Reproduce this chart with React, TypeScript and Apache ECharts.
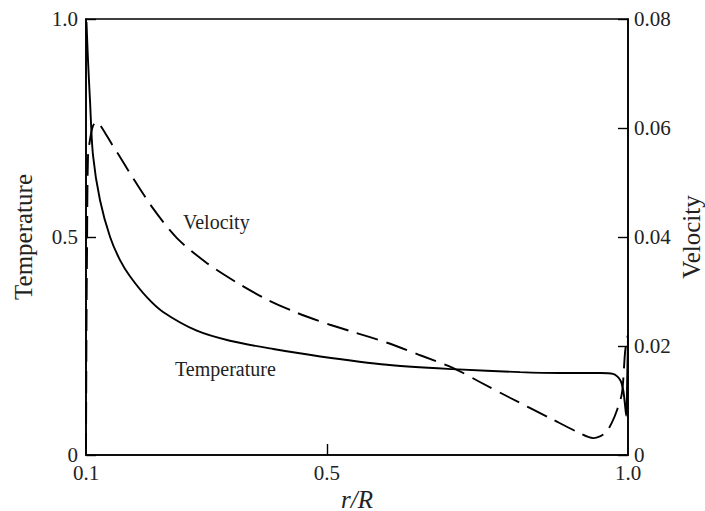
import React, { useEffect, useRef } from "react";
import * as echarts from "echarts";

// r/R values and temperature (left axis)
const tempR = [0.1008, 0.1033, 0.1066, 0.1116, 0.1232, 0.14, 0.1565, 0.173, 0.201, 0.228, 0.284, 0.339, 0.411, 0.489, 0.6, 0.709, 0.821, 0.887, 0.954, 0.975, 0.987, 0.992, 0.995, 0.997, 0.999, 1.0];
const tempV = [0.993, 0.906, 0.814, 0.688, 0.585, 0.5, 0.447, 0.41, 0.362, 0.328, 0.285, 0.262, 0.243, 0.226, 0.207, 0.197, 0.19, 0.188, 0.188, 0.186, 0.172, 0.149, 0.115, 0.09, 0.2, 0.27];

// r/R values and velocity (right axis)
const velR = [0.1, 0.1008, 0.1017, 0.1033, 0.1066, 0.1116, 0.1183, 0.1232, 0.1448, 0.1565, 0.173, 0.211, 0.251, 0.301, 0.351, 0.401, 0.45, 0.505, 0.543, 0.6, 0.655, 0.709, 0.754, 0.804, 0.87, 0.92, 0.942, 0.962, 0.973, 0.982, 0.99, 0.995, 0.998, 1.0];
const velV = [0, 0.0229, 0.0376, 0.0547, 0.0578, 0.0604, 0.0611, 0.0606, 0.0567, 0.0547, 0.0517, 0.0453, 0.0398, 0.0352, 0.0316, 0.0285, 0.0261, 0.0239, 0.0226, 0.0206, 0.0183, 0.016, 0.0134, 0.0105, 0.0068, 0.004, 0.0031, 0.004, 0.0059, 0.0083, 0.0114, 0.0187, 0.0211, 0.022];

const xTicks = [0.1, 0.5, 1.0];
const seriesLabels = ["Velocity", "Temperature"];

const FONT = "Liberation Serif";

export default function App() {
  const ref = useRef<HTMLDivElement>(null);
  useEffect(() => {
    if (!ref.current) return;
    const chart = echarts.init(ref.current, null, { renderer: "svg" });
    const axisLine = { show: true, lineStyle: { color: "#000", width: 1.6 } };
    chart.setOption({
      animation: false,
      backgroundColor: "#fff",
      textStyle: { fontFamily: FONT },
      grid: {
        left: 86,
        right: 77,
        top: 19,
        bottom: 56,
        show: true,
        borderColor: "#000",
        borderWidth: 1.6,
        outerBoundsMode: "none",
        containLabel: false,
      },
      xAxis: {
        type: "value",
        min: 0.1,
        max: 1.0,
        name: "r/R",
        nameLocation: "middle",
        nameGap: 32,
        nameMoveOverlap: false,
        nameTextStyle: { fontFamily: FONT, fontSize: 25, fontStyle: "italic", color: "#222" },
        axisLine,
        splitLine: { show: false },
        axisTick: { show: true, inside: true, length: 11, customValues: [0.5], lineStyle: { color: "#000", width: 1.4 } },
        axisLabel: {
          customValues: xTicks,
          margin: 7,
          fontFamily: FONT,
          fontSize: 21,
          color: "#222",
          formatter: (v: number) => v.toFixed(1),
        },
      },
      yAxis: [
        {
          type: "value",
          position: "left",
          min: 0,
          max: 1,
          interval: 0.5,
          name: "Temperature",
          nameLocation: "middle",
          nameGap: 50,
          nameMoveOverlap: false,
          nameRotate: 90,
          nameTextStyle: { fontFamily: FONT, fontSize: 25, color: "#222" },
          axisLine,
          splitLine: { show: false },
          axisTick: { show: true, inside: true, length: 10, lineStyle: { color: "#000", width: 1.4 } },
          axisLabel: {
            margin: 8,
            fontFamily: FONT,
            fontSize: 21,
            color: "#222",
            formatter: (v: number) => (v === 0 ? "0" : v.toFixed(1)),
          },
        },
        {
          type: "value",
          position: "right",
          min: 0,
          max: 0.08,
          interval: 0.02,
          name: "Velocity",
          nameLocation: "middle",
          nameGap: 51,
          nameMoveOverlap: false,
          nameRotate: 90,
          nameTextStyle: { fontFamily: FONT, fontSize: 25, color: "#222" },
          axisLine,
          splitLine: { show: false },
          axisTick: { show: true, inside: true, length: 10, lineStyle: { color: "#000", width: 1.4 } },
          axisLabel: {
            margin: 6,
            fontFamily: FONT,
            fontSize: 21,
            color: "#222",
            formatter: (v: number) => (v === 0 ? "0" : v.toFixed(2)),
          },
        },
      ],
      series: [
        {
          type: "line",
          name: "Temperature",
          yAxisIndex: 0,
          data: tempR.map((r, i) => [r, tempV[i]]),
          showSymbol: false,
          smooth: 0.3,
          lineStyle: { color: "#000", width: 1.9 },
        },
        {
          type: "line",
          name: "Velocity",
          yAxisIndex: 1,
          data: velR.map((r, i) => [r, velV[i]]),
          showSymbol: false,
          smooth: 0.3,
          lineStyle: { color: "#000", width: 1.9, type: [22, 9] },
        },
      ],
      graphic: [
        {
          type: "text",
          x: 183,
          y: 222,
          style: { text: seriesLabels[0], font: `20px ${FONT}`, fill: "#222", textVerticalAlign: "middle" },
        },
        {
          type: "text",
          x: 175,
          y: 369,
          style: { text: seriesLabels[1], font: `20px ${FONT}`, fill: "#222", textVerticalAlign: "middle" },
        },
      ],
    });
    return () => chart.dispose();
  }, []);
  return <div ref={ref} style={{ position: "fixed", left: 0, top: 0, width: 705, height: 511 }} />;
}
